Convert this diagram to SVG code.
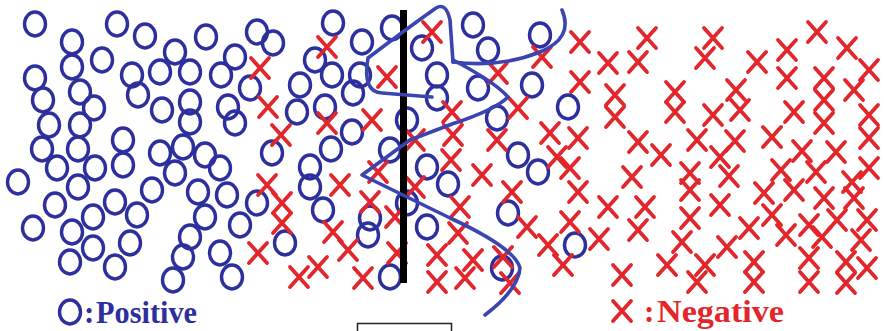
<svg xmlns="http://www.w3.org/2000/svg" xmlns:xlink="http://www.w3.org/1999/xlink" width="884" height="331" viewBox="0 0 884 331">
<style>
.pos{fill:none;stroke:#2e2f9e;stroke-width:3.4}
.neg{fill:none;stroke:#e3262b;stroke-width:3.8;stroke-linecap:round}
.curve{fill:none;stroke:#3b45b0;stroke-width:3.6;stroke-linecap:round;stroke-linejoin:round}
.lbl{font-family:"Liberation Serif","Times New Roman",serif;font-weight:bold;font-size:31px}
</style>
<defs>
<ellipse id="o" cx="0" cy="0" rx="10.5" ry="12" class="pos"/>
<path id="x" d="M-9,-10 L9,10 M9,-10 L-9,10" class="neg"/>
</defs>
<rect width="884" height="331" fill="#fff"/>
<g id="positives">
<use href="#o" x="35" y="24"/><use href="#o" x="72" y="42"/><use href="#o" x="117" y="24"/><use href="#o" x="145" y="36"/>
<use href="#o" x="102" y="60"/><use href="#o" x="72" y="67"/><use href="#o" x="35" y="78"/><use href="#o" x="132" y="75"/>
<use href="#o" x="80" y="92"/><use href="#o" x="138" y="95"/><use href="#o" x="43" y="100"/><use href="#o" x="94" y="108"/>
<use href="#o" x="49" y="125"/><use href="#o" x="80" y="125"/><use href="#o" x="123" y="140"/><use href="#o" x="42" y="149"/><use href="#o" x="78" y="149"/>
<use href="#o" x="206" y="37"/><use href="#o" x="257" y="32"/><use href="#o" x="273" y="43"/><use href="#o" x="175" y="52"/><use href="#o" x="235" y="57"/>
<use href="#o" x="160" y="72"/><use href="#o" x="190" y="72"/><use href="#o" x="221" y="75"/><use href="#o" x="250" y="88"/><use href="#o" x="300" y="85"/>
<use href="#o" x="162" y="110"/><use href="#o" x="190" y="102"/><use href="#o" x="228" y="107"/><use href="#o" x="190" y="122"/><use href="#o" x="235" y="123"/><use href="#o" x="297" y="112"/>
<use href="#o" x="57" y="168"/><use href="#o" x="95" y="168"/><use href="#o" x="123" y="165"/><use href="#o" x="18" y="182"/><use href="#o" x="78" y="187"/>
<use href="#o" x="55" y="205"/><use href="#o" x="115" y="202"/><use href="#o" x="93" y="217"/><use href="#o" x="137" y="215"/><use href="#o" x="33" y="228"/>
<use href="#o" x="72" y="232"/><use href="#o" x="93" y="248"/><use href="#o" x="130" y="243"/><use href="#o" x="70" y="262"/><use href="#o" x="115" y="267"/>
<use href="#o" x="160" y="153"/><use href="#o" x="183" y="147"/><use href="#o" x="205" y="155"/><use href="#o" x="220" y="168"/><use href="#o" x="175" y="173"/>
<use href="#o" x="152" y="190"/><use href="#o" x="198" y="192"/><use href="#o" x="227" y="195"/><use href="#o" x="257" y="203"/><use href="#o" x="205" y="217"/>
<use href="#o" x="240" y="225"/><use href="#o" x="190" y="237"/><use href="#o" x="285" y="243"/><use href="#o" x="183" y="257"/><use href="#o" x="220" y="253"/>
<use href="#o" x="173" y="280"/><use href="#o" x="232" y="277"/><use href="#o" x="272" y="153"/>
<use href="#o" x="333" y="23"/><use href="#o" x="392" y="28"/><use href="#o" x="362" y="42"/><use href="#o" x="315" y="60"/><use href="#o" x="332" y="75"/>
<use href="#o" x="360" y="75"/><use href="#o" x="422" y="48"/><use href="#o" x="437" y="75"/><use href="#o" x="353" y="93"/><use href="#o" x="437" y="98"/>
<use href="#o" x="325" y="107"/><use href="#o" x="407" y="120"/><use href="#o" x="352" y="132"/><use href="#o" x="331" y="149"/><use href="#o" x="390" y="150"/>
<use href="#o" x="427" y="167"/><use href="#o" x="448" y="184"/><use href="#o" x="310" y="167"/><use href="#o" x="310" y="187"/><use href="#o" x="323" y="210"/>
<use href="#o" x="370" y="218"/><use href="#o" x="368" y="235"/><use href="#o" x="407" y="203"/><use href="#o" x="427" y="227"/><use href="#o" x="390" y="277"/>
<use href="#o" x="473" y="25"/><use href="#o" x="540" y="35"/><use href="#o" x="488" y="50"/><use href="#o" x="532" y="85"/><use href="#o" x="478" y="88"/>
<use href="#o" x="568" y="107"/><use href="#o" x="497" y="118"/><use href="#o" x="518" y="155"/><use href="#o" x="538" y="172"/><use href="#o" x="508" y="213"/>
<use href="#o" x="575" y="245"/><use href="#o" x="502" y="268"/>
</g>
<g id="negatives">
<use href="#x" x="260" y="68"/><use href="#x" x="268" y="107"/><use href="#x" x="281" y="135"/>
<use href="#x" x="327" y="47"/><use href="#x" x="387" y="77"/><use href="#x" x="432" y="32"/><use href="#x" x="327" y="123"/><use href="#x" x="372" y="120"/><use href="#x" x="452" y="112"/>
<use href="#x" x="580" y="42"/><use href="#x" x="542" y="57"/><use href="#x" x="498" y="73"/><use href="#x" x="580" y="82"/><use href="#x" x="518" y="108"/>
<use href="#x" x="550" y="133"/><use href="#x" x="578" y="138"/><use href="#x" x="497" y="140"/><use href="#x" x="453" y="135"/><use href="#x" x="415" y="140"/>
<use href="#x" x="267" y="185"/><use href="#x" x="282" y="203"/><use href="#x" x="282" y="223"/><use href="#x" x="258" y="253"/><use href="#x" x="299" y="277"/>
<use href="#x" x="340" y="185"/><use href="#x" x="378" y="172"/><use href="#x" x="370" y="202"/><use href="#x" x="415" y="187"/><use href="#x" x="333" y="232"/>
<use href="#x" x="348" y="250"/><use href="#x" x="318" y="267"/><use href="#x" x="363" y="278"/><use href="#x" x="395" y="217"/><use href="#x" x="397" y="253"/>
<use href="#x" x="437" y="255"/><use href="#x" x="437" y="282"/><use href="#x" x="451" y="160"/>
<use href="#x" x="482" y="175"/><use href="#x" x="557" y="157"/><use href="#x" x="570" y="168"/><use href="#x" x="578" y="192"/><use href="#x" x="512" y="192"/>
<use href="#x" x="460" y="207"/><use href="#x" x="527" y="227"/><use href="#x" x="570" y="222"/><use href="#x" x="458" y="233"/><use href="#x" x="548" y="245"/>
<use href="#x" x="599" y="239"/><use href="#x" x="473" y="260"/><use href="#x" x="503" y="257"/><use href="#x" x="563" y="265"/><use href="#x" x="465" y="278"/><use href="#x" x="510" y="283"/>
<use href="#x" x="647" y="38"/><use href="#x" x="713" y="38"/><use href="#x" x="608" y="63"/><use href="#x" x="638" y="62"/><use href="#x" x="705" y="58"/>
<use href="#x" x="615" y="95"/><use href="#x" x="615" y="117"/><use href="#x" x="675" y="92"/><use href="#x" x="675" y="112"/><use href="#x" x="713" y="115"/>
<use href="#x" x="736" y="90"/><use href="#x" x="740" y="110"/><use href="#x" x="638" y="142"/><use href="#x" x="697" y="140"/><use href="#x" x="735" y="141"/><use href="#x" x="661" y="155"/>
<use href="#x" x="817" y="32"/><use href="#x" x="787" y="50"/><use href="#x" x="847" y="48"/><use href="#x" x="757" y="62"/><use href="#x" x="787" y="78"/>
<use href="#x" x="824" y="78"/><use href="#x" x="869" y="70"/><use href="#x" x="854" y="90"/><use href="#x" x="794" y="112"/><use href="#x" x="824" y="100"/>
<use href="#x" x="824" y="123"/><use href="#x" x="869" y="115"/><use href="#x" x="869" y="138"/><use href="#x" x="772" y="137"/><use href="#x" x="802" y="151"/><use href="#x" x="836" y="152"/>
<use href="#x" x="720" y="157"/><use href="#x" x="632" y="177"/><use href="#x" x="690" y="173"/><use href="#x" x="690" y="190"/><use href="#x" x="729" y="176"/>
<use href="#x" x="720" y="205"/><use href="#x" x="608" y="207"/><use href="#x" x="645" y="207"/><use href="#x" x="690" y="218"/><use href="#x" x="638" y="230"/>
<use href="#x" x="682" y="242"/><use href="#x" x="727" y="247"/><use href="#x" x="667" y="265"/><use href="#x" x="705" y="265"/><use href="#x" x="697" y="282"/><use href="#x" x="622" y="275"/>
<use href="#x" x="781" y="170"/><use href="#x" x="816" y="172"/><use href="#x" x="869" y="168"/><use href="#x" x="852" y="182"/><use href="#x" x="764" y="193"/>
<use href="#x" x="794" y="190"/><use href="#x" x="824" y="198"/><use href="#x" x="854" y="198"/><use href="#x" x="772" y="215"/><use href="#x" x="749" y="228"/>
<use href="#x" x="786" y="235"/><use href="#x" x="809" y="225"/><use href="#x" x="822" y="237"/><use href="#x" x="837" y="220"/><use href="#x" x="867" y="220"/>
<use href="#x" x="861" y="240"/><use href="#x" x="754" y="262"/><use href="#x" x="754" y="282"/><use href="#x" x="809" y="258"/><use href="#x" x="809" y="282"/>
<use href="#x" x="846" y="262"/><use href="#x" x="846" y="283"/><use href="#x" x="867" y="268"/>
</g>
<g id="boundary">
<rect x="400" y="10" width="7" height="273" fill="#000"/>
<path class="curve" d="M562,10 Q574,38 540,52 Q500,68 453,62"/>
<path class="curve" d="M453,62 L450,20 Q446,2 436,8 Q405,30 368,58 Q362,92 382,93 L432,97"/>
<path class="curve" d="M453,60 Q495,82 508,97 Q495,110 452,124 L410,140 L362,175 L450,218 Q515,248 520,268 Q518,290 485,315"/>
</g>
<g id="legend">
<use href="#o" x="70" y="312" style="stroke-width:3"/>
<text class="lbl" x="84" y="323" fill="#2e2f9e">:</text>
<text class="lbl" x="96" y="323" fill="#2e2f9e" textLength="101" lengthAdjust="spacingAndGlyphs">Positive</text>
<use href="#x" x="622" y="311"/>
<text class="lbl" x="644" y="322" fill="#e3262b">:</text>
<text class="lbl" x="657" y="322" fill="#e3262b" textLength="127" lengthAdjust="spacingAndGlyphs">Negative</text>
<rect x="357.5" y="323.5" width="94" height="12" fill="none" stroke="#222" stroke-width="1.5"/>
</g>
</svg>
